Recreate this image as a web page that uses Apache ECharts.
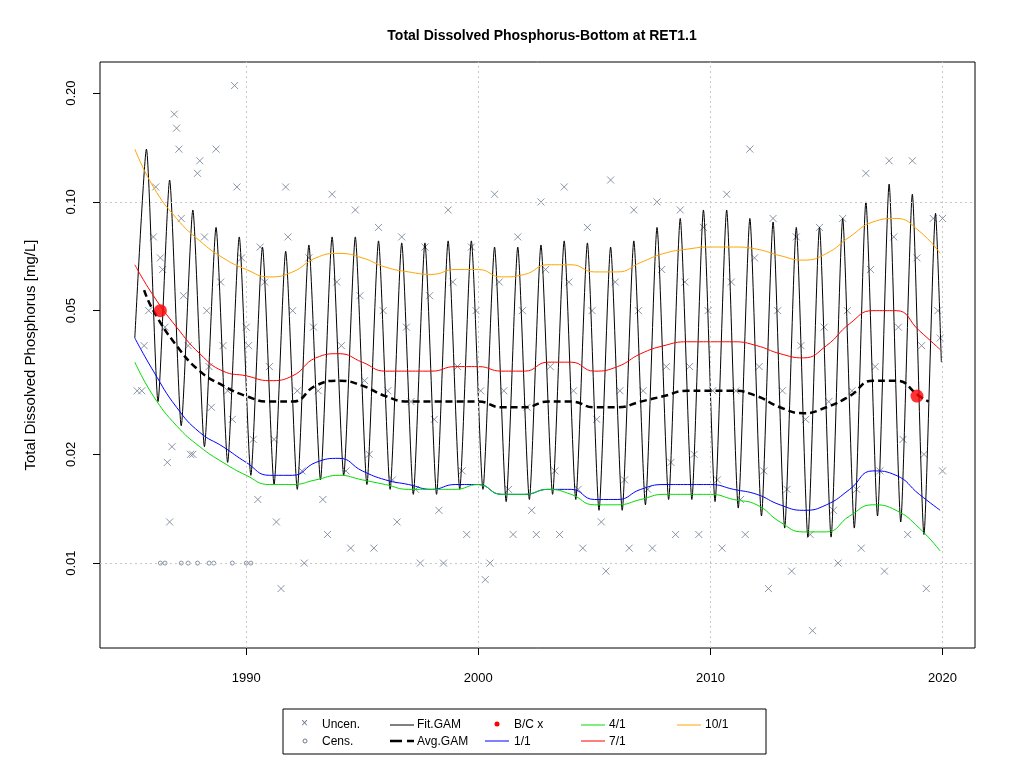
<!DOCTYPE html>
<html>
<head>
<meta charset="utf-8">
<script src="https://cdn.jsdelivr.net/npm/echarts@6/dist/echarts.min.js"></script>
<style>html,body{margin:0;background:#fff}#chart{width:1024px;height:768px}</style>
</head>
<body>
<div id="chart"></div>
<script>
// tick labels
const xTicks = [1990, 2000, 2010, 2020];
const yTicks = [0.01, 0.02, 0.05, 0.10, 0.20];

// uncensored samples [decimal year, mg/L]
const uncen = [
  [1985.3,0.03],[1985.5,0.03],[1985.6,0.04],[1985.8,0.05],[1986.0,0.08],[1986.1,0.11],[1986.3,0.07],[1986.4,0.065],[1986.5,0.045],[1986.6,0.019],
  [1986.7,0.013],[1986.8,0.021],[1986.9,0.175],[1987.0,0.16],[1987.1,0.14],[1987.2,0.09],[1987.3,0.055],[1987.5,0.04],[1987.6,0.02],[1987.7,0.02],
  [1987.9,0.12],[1988.0,0.13],[1988.2,0.08],[1988.3,0.05],[1988.4,0.035],[1988.5,0.027],[1988.7,0.14],[1988.9,0.06],[1989.0,0.04],[1989.2,0.03],
  [1989.4,0.025],[1989.5,0.21],[1989.6,0.11],[1989.8,0.07],[1990.0,0.045],[1990.1,0.04],[1990.3,0.022],[1990.5,0.015],[1990.6,0.075],[1990.8,0.06],
  [1991.0,0.035],[1991.2,0.022],[1991.3,0.013],[1991.5,0.0085],[1991.7,0.11],[1991.8,0.08],[1992.0,0.05],[1992.2,0.03],[1992.4,0.018],[1992.5,0.01],
  [1992.7,0.07],[1992.9,0.045],[1993.1,0.03],[1993.3,0.015],[1993.5,0.012],[1993.7,0.105],[1993.9,0.06],[1994.1,0.04],[1994.3,0.018],[1994.5,0.011],
  [1994.7,0.095],[1994.9,0.055],[1995.1,0.032],[1995.3,0.02],[1995.5,0.011],[1995.7,0.085],[1995.9,0.05],[1996.1,0.03],[1996.3,0.017],[1996.5,0.013],
  [1996.7,0.08],[1996.9,0.045],[1997.1,0.028],[1997.3,0.016],[1997.5,0.01],[1997.7,0.075],[1997.9,0.055],[1998.1,0.025],[1998.3,0.014],[1998.5,0.01],
  [1998.7,0.095],[1998.9,0.06],[1999.1,0.035],[1999.3,0.018],[1999.5,0.012],[1999.7,0.075],[1999.9,0.05],[2000.1,0.03],[2000.3,0.009],[2000.5,0.01],
  [2000.7,0.105],[2000.9,0.06],[2001.1,0.03],[2001.3,0.016],[2001.5,0.012],[2001.7,0.08],[2001.9,0.05],[2002.1,0.027],[2002.3,0.014],[2002.5,0.012],
  [2002.7,0.1],[2002.9,0.065],[2003.1,0.035],[2003.3,0.018],[2003.5,0.012],[2003.7,0.11],[2003.9,0.06],[2004.1,0.03],[2004.3,0.016],[2004.5,0.011],
  [2004.7,0.085],[2004.9,0.05],[2005.1,0.025],[2005.3,0.013],[2005.5,0.0095],[2005.7,0.115],[2005.9,0.06],[2006.1,0.03],[2006.3,0.017],[2006.5,0.011],
  [2006.7,0.095],[2006.9,0.05],[2007.1,0.03],[2007.3,0.016],[2007.5,0.011],[2007.7,0.1],[2007.9,0.065],[2008.1,0.035],[2008.3,0.019],[2008.5,0.012],
  [2008.7,0.095],[2008.9,0.06],[2009.1,0.035],[2009.3,0.02],[2009.5,0.012],[2009.7,0.085],[2009.9,0.05],[2010.1,0.03],[2010.3,0.017],[2010.5,0.011],
  [2010.7,0.105],[2010.9,0.06],[2011.1,0.03],[2011.3,0.015],[2011.5,0.012],[2011.7,0.14],[2011.9,0.07],[2012.1,0.035],[2012.3,0.018],[2012.5,0.0085],
  [2012.7,0.09],[2012.9,0.05],[2013.1,0.03],[2013.3,0.016],[2013.5,0.0095],[2013.7,0.08],[2013.9,0.04],[2014.1,0.025],[2014.3,0.012],[2014.4,0.0065],
  [2014.7,0.085],[2014.9,0.045],[2015.1,0.028],[2015.3,0.014],[2015.5,0.01],[2015.7,0.09],[2015.9,0.05],[2016.1,0.03],[2016.3,0.016],[2016.5,0.011],
  [2016.7,0.12],[2016.9,0.065],[2017.1,0.035],[2017.3,0.018],[2017.5,0.0095],[2017.7,0.13],[2017.9,0.08],[2018.1,0.045],[2018.3,0.022],[2018.5,0.012],
  [2018.7,0.13],[2018.9,0.07],[2019.1,0.04],[2019.2,0.02],[2019.3,0.0085],[2019.6,0.09],[2019.8,0.05],[2019.9,0.042],[2020.0,0.018],[2020.0,0.09]
];
// censored samples (at detection limit)
const cens = [[1986.3,0.01],[1986.5,0.01],[1987.2,0.01],[1987.5,0.01],[1987.9,0.01],[1988.4,0.01],[1988.6,0.01],[1989.4,0.01],[1990.0,0.01],[1990.2,0.01]];
// bias-correction points
const bcx = [[1986.3,0.05],[2018.9,0.029]];

// Fit.GAM: seasonal peaks (yr+0.7) and troughs (yr+0.2)
const fitStart = [1985.2, 0.042];
const fitEnd = [2019.95, 0.036];
const peakYears = [1985,1986,1987,1988,1989,1990,1991,1992,1993,1994,1995,1996,1997,1998,1999,2000,2001,2002,2003,2004,2005,2006,2007,2008,2009,2010,2011,2012,2013,2014,2015,2016,2017,2018,2019];
const fitPeak = [0.14,0.115,0.095,0.085,0.08,0.075,0.073,0.076,0.08,0.08,0.078,0.077,0.077,0.078,0.078,0.075,0.075,0.076,0.078,0.077,0.075,0.078,0.085,0.09,0.095,0.095,0.09,0.088,0.085,0.085,0.09,0.1,0.112,0.105,0.093];
const fitTrough = [0.028,0.024,0.021,0.019,0.0175,0.0165,0.016,0.017,0.0175,0.0165,0.016,0.0155,0.0155,0.016,0.016,0.0148,0.015,0.0155,0.015,0.014,0.014,0.0145,0.015,0.015,0.0148,0.0142,0.0135,0.0125,0.0118,0.0118,0.0125,0.0135,0.013,0.012];

// smooth curves, one value per year
const curveYears = [1985.2,1986,1987,1988,1989,1990,1991,1992,1993,1994,1995,1996,1997,1998,1999,2000,2001,2002,2003,2004,2005,2006,2007,2008,2009,2010,2011,2012,2013,2014,2015,2016,2017,2018,2019,2019.9];
const q10 = [0.14,0.11,0.09,0.078,0.07,0.065,0.062,0.064,0.07,0.072,0.07,0.066,0.064,0.063,0.065,0.065,0.062,0.063,0.067,0.067,0.064,0.064,0.068,0.072,0.074,0.075,0.075,0.074,0.071,0.069,0.072,0.08,0.088,0.09,0.083,0.072];
const q7 = [0.067,0.055,0.045,0.038,0.034,0.033,0.032,0.033,0.037,0.038,0.036,0.034,0.034,0.034,0.035,0.035,0.034,0.034,0.036,0.036,0.034,0.035,0.038,0.04,0.041,0.041,0.041,0.04,0.038,0.037,0.04,0.046,0.05,0.05,0.044,0.039];
const q1 = [0.042,0.034,0.027,0.023,0.021,0.019,0.0175,0.0175,0.019,0.0195,0.018,0.017,0.0165,0.016,0.0165,0.0165,0.0155,0.0155,0.016,0.016,0.015,0.015,0.016,0.0165,0.0165,0.0165,0.016,0.0155,0.0145,0.014,0.0145,0.016,0.018,0.0175,0.0155,0.014];
const q4 = [0.036,0.029,0.024,0.021,0.019,0.0175,0.0165,0.0165,0.017,0.0175,0.017,0.0165,0.016,0.016,0.016,0.0165,0.0155,0.0155,0.016,0.0155,0.0145,0.0145,0.015,0.0155,0.0155,0.0155,0.015,0.0145,0.013,0.0122,0.0122,0.0135,0.0145,0.014,0.0125,0.0108];
const avgYears = [1985.6,1986,1987,1988,1989,1990,1991,1992,1993,1994,1995,1996,1997,1998,1999,2000,2001,2002,2003,2004,2005,2006,2007,2008,2009,2010,2011,2012,2013,2014,2015,2016,2017,2018,2019,2019.4];
const avgGam = [0.057,0.05,0.04,0.034,0.031,0.029,0.028,0.028,0.031,0.032,0.031,0.029,0.028,0.028,0.028,0.028,0.027,0.027,0.028,0.028,0.027,0.027,0.028,0.029,0.030,0.030,0.030,0.029,0.027,0.026,0.027,0.029,0.032,0.032,0.029,0.028];

const lg = Math.log10;
const toLog = arr => arr.map(p => [p[0], lg(p[1])]);
const pair = (xs, ys) => xs.map((x, i) => [x, lg(ys[i])]);

let fitData = [[fitStart[0], lg(fitStart[1])]];
peakYears.forEach((y, i) => {
  fitData.push([y + 0.7, lg(fitPeak[i])]);
  if (i < fitTrough.length) fitData.push([y + 1.2, lg(fitTrough[i])]);
});
fitData.push([fitEnd[0], lg(fitEnd[1])]);

const cross = 'path://M0,0L10,10M10,0L0,10';
const gridLine = { type: [2, 3], color: '#c8c8c8', width: 1 };

const chart = echarts.init(document.getElementById('chart'));
const F = 'Liberation Sans, Arial, sans-serif';

function line(name, data, color, width, type) {
  return { name, type: 'line', data, showSymbol: false, smooth: name === 'Fit.GAM' ? 0.2 : true,
    lineStyle: { color, width: width || 1, type: type || 'solid' }, z: name === 'Avg.GAM' ? 6 : 4, silent: true };
}

// legend drawn as graphic items
const g = [
  { type: 'rect', shape: { x: 283, y: 709, width: 483, height: 45 }, style: { fill: '#fff', stroke: '#000', lineWidth: 1 } }
];
function ltext(x, y, t) { g.push({ type: 'text', x, y, style: { text: t, font: '12px ' + F, fill: '#000', verticalAlign: 'middle' } }); }
function lline(x1, y, color, w, dash) { g.push({ type: 'line', shape: { x1, y1: y, x2: x1 + 24, y2: y }, style: { stroke: color, lineWidth: w || 1, lineDash: dash || null } }); }
g.push({ type: 'text', x: 301, y: 724, style: { text: '×', font: '12px ' + F, fill: '#6b7a8f', verticalAlign: 'middle' } });
ltext(322, 725, 'Uncen.');
g.push({ type: 'circle', shape: { cx: 305, cy: 741, r: 2 }, style: { fill: 'none', stroke: '#6b7a8f' } });
ltext(322, 742, 'Cens.');
lline(390, 725, '#000'); ltext(417, 725, 'Fit.GAM');
lline(390, 741, '#000', 2.5, [12, 5]); ltext(417, 742, 'Avg.GAM');
g.push({ type: 'circle', shape: { cx: 497, cy: 724, r: 2.5 }, style: { fill: '#ff0000' } });
ltext(514, 725, 'B/C x');
lline(485, 741, '#0000ff'); ltext(514, 742, '1/1');
lline(581, 725, '#00dd00'); ltext(609, 725, '4/1');
lline(581, 741, '#ff0000'); ltext(609, 742, '7/1');
lline(677, 725, '#ffa500'); ltext(705, 725, '10/1');

chart.setOption({
  animation: false,
  backgroundColor: '#fff',
  title: { text: 'Total Dissolved Phosphorus-Bottom at RET1.1', left: 537, top: 24, textAlign: 'center',
    textStyle: { fontFamily: F, fontSize: 14, fontWeight: 'bold', color: '#000' } },
  grid: { left: 100, right: 49, top: 62, bottom: 120, show: true, borderColor: '#000', borderWidth: 1 },
  xAxis: { type: 'value', min: 1983.7, max: 2021.4,
    axisLine: { show: false }, splitLine: { show: false },
    axisTick: { show: true, customValues: xTicks, length: 7, lineStyle: { color: '#000' } },
    axisLabel: { customValues: xTicks, margin: 24, fontFamily: F, fontSize: 13, color: '#000',
      formatter: v => String(Math.round(v)) } },
  yAxis: { type: 'value', min: lg(0.00582), max: lg(0.244),
    name: 'Total Dissolved Phosphorus [mg/L]', nameLocation: 'middle', nameGap: 62,
    nameTextStyle: { fontFamily: F, fontSize: 15, color: '#000' },
    axisLine: { show: false }, splitLine: { show: false },
    axisTick: { show: true, customValues: yTicks.map(lg), length: 7, lineStyle: { color: '#000' } },
    axisLabel: { customValues: yTicks.map(lg), rotate: 90, margin: 22, fontFamily: F, fontSize: 13, color: '#000',
      formatter: v => Math.pow(10, v).toFixed(2) } },
  graphic: g,
  series: [
    { name: 'grid', type: 'line', data: [], markLine: { silent: true, symbol: 'none', label: { show: false }, lineStyle: gridLine,
      data: xTicks.map(x => ({ xAxis: x })).concat([{ yAxis: lg(0.01) }, { yAxis: lg(0.1) }]) } },
    { name: 'Uncen.', type: 'scatter', data: toLog(uncen), symbol: cross, symbolSize: 7,
      itemStyle: { color: 'none', borderColor: '#6b7a8f', borderWidth: 1 }, z: 2 },
    { name: 'Cens.', type: 'scatter', data: toLog(cens), symbol: 'circle', symbolSize: 4,
      itemStyle: { color: 'none', borderColor: '#6b7a8f', borderWidth: 1 }, z: 2 },
    line('Fit.GAM', fitData, '#000', 1),
    line('10/1', pair(curveYears, q10), '#ffa500'),
    line('7/1', pair(curveYears, q7), '#ff0000'),
    line('1/1', pair(curveYears, q1), '#0000ff'),
    line('4/1', pair(curveYears, q4), '#00dd00'),
    line('Avg.GAM', pair(avgYears, avgGam), '#000', 2.5, [7, 4]),
    { name: 'B/C x', type: 'scatter', data: toLog(bcx), symbolSize: 13, itemStyle: { color: '#ff0000' }, z: 8 }
  ]
});
</script>
</body>
</html>
